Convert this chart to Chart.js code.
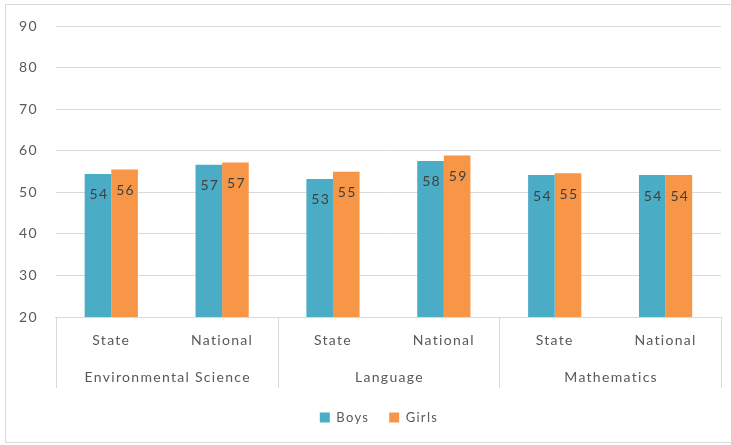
<!DOCTYPE html>
<html>
<head>
<meta charset="utf-8">
<script src="https://cdn.jsdelivr.net/npm/chart.js@4"></script>
<style>
  html, body { margin: 0; padding: 0; background: #fff; }
  #wrap { width: 731px; height: 445px; }
</style>
</head>
<body>
<div id="wrap"><canvas id="chart" width="731" height="445"></canvas></div>
<script>
// Data
const subLabels = ["State", "National", "State", "National", "State", "National"];
const groups = ["Environmental Science", "Language", "Mathematics"];
const boys = [54.45, 56.7, 53.25, 57.6, 54.2, 54.2];
const girls = [55.5, 57.2, 55.0, 58.9, 54.6, 54.2];
const yTicks = [20, 30, 40, 50, 60, 70, 80, 90];

const FONT = "Lato, 'Open Sans', sans-serif";
const SIZE = 14;
const GRAY = "#595959";
const SPACING = "1.3px";

// border around the whole chart + wider letter spacing like the original
const frame = {
    id: "frame",
    beforeLayout(chart) {
        chart.ctx.letterSpacing = SPACING;
    },
    afterLayout(chart) {
        // legend is centred under the plot area, not the canvas
        chart.legend.left += 36;
    },
    beforeDraw(chart) {
        const ctx = chart.ctx;
        ctx.letterSpacing = SPACING;
        ctx.save();
        ctx.fillStyle = "#fff";
        ctx.fillRect(0, 0, chart.width, chart.height);
        ctx.strokeStyle = "#d9d9d9";
        ctx.lineWidth = 1;
        ctx.strokeRect(5.5, 4.5, 740, 438);
        ctx.restore();
    }
};

// value labels inside top of bars
const valueLabels = {
    id: "valueLabels",
    afterDatasetsDraw(chart) {
        const ctx = chart.ctx;
        ctx.save();
        ctx.font = SIZE + "px " + FONT;
        ctx.fillStyle = "#404040";
        ctx.textAlign = "center";
        ctx.textBaseline = "middle";
        chart.data.datasets.forEach((ds, i) => {
            chart.getDatasetMeta(i).data.forEach((bar, j) => {
                ctx.fillText(Math.round(ds.data[j]), bar.x + 1, bar.y + 21);
            });
        });
        ctx.restore();
    }
};

// group labels and separators for the two-level axis
const groupAxis = {
    id: "groupAxis",
    afterDraw(chart) {
        const ctx = chart.ctx;
        const x = chart.scales.x;
        const top = x.top;
        const per = subLabels.length / groups.length;
        const step = x.getPixelForValue(1) - x.getPixelForValue(0);
        ctx.save();
        ctx.strokeStyle = "#d9d9d9";
        ctx.lineWidth = 1;
        for (let g = 0; g <= groups.length; g++) {
            const px = Math.round(x.getPixelForValue(g * per) - step / 2) + 0.5;
            ctx.beginPath();
            ctx.moveTo(px, top);
            ctx.lineTo(px, top + 71);
            ctx.stroke();
        }
        ctx.font = SIZE + "px " + FONT;
        ctx.fillStyle = GRAY;
        ctx.textAlign = "center";
        ctx.textBaseline = "middle";
        groups.forEach((g, i) => {
            const a = x.getPixelForValue(i * per);
            const b = x.getPixelForValue(i * per + per - 1);
            ctx.fillText(g, (a + b) / 2 + 1, top + 60);
        });
        ctx.restore();
    }
};

new Chart(document.getElementById("chart"), {
    type: "bar",
    data: {
        labels: subLabels,
        datasets: [
            { label: "Boys", data: boys, backgroundColor: "#4bacc6" },
            { label: "Girls", data: girls, backgroundColor: "#f79646" }
        ]
    },
    options: {
        responsive: false,
        animation: false,
        devicePixelRatio: 1,
        layout: { padding: { left: 1, right: 10, top: 17, bottom: 11 } },
        datasets: { bar: { barPercentage: 1, categoryPercentage: 0.48 } },
        plugins: {
            tooltip: { enabled: false },
            legend: {
                position: "bottom",
                labels: {
                    color: GRAY,
                    font: { family: FONT, size: 13 },
                    boxWidth: 10,
                    boxHeight: 10,
                    padding: 20
                }
            }
        },
        scales: {
            x: {
                grid: { display: false, drawTicks: false },
                border: { display: true, color: "#d9d9d9" },
                ticks: { color: GRAY, font: { family: FONT, size: SIZE }, padding: 15, maxRotation: 0 },
                afterFit(scale) { scale.height = 74; }
            },
            y: {
                min: 20,
                max: 90,
                afterBuildTicks(scale) { scale.ticks = yTicks.map(v => ({ value: v })); },
                grid: { color: "#d9d9d9", drawTicks: false },
                border: { display: false },
                ticks: { color: GRAY, font: { family: FONT, size: SIZE }, padding: 18 }
            }
        }
    },
    plugins: [frame, valueLabels, groupAxis]
});
</script>
</body>
</html>
